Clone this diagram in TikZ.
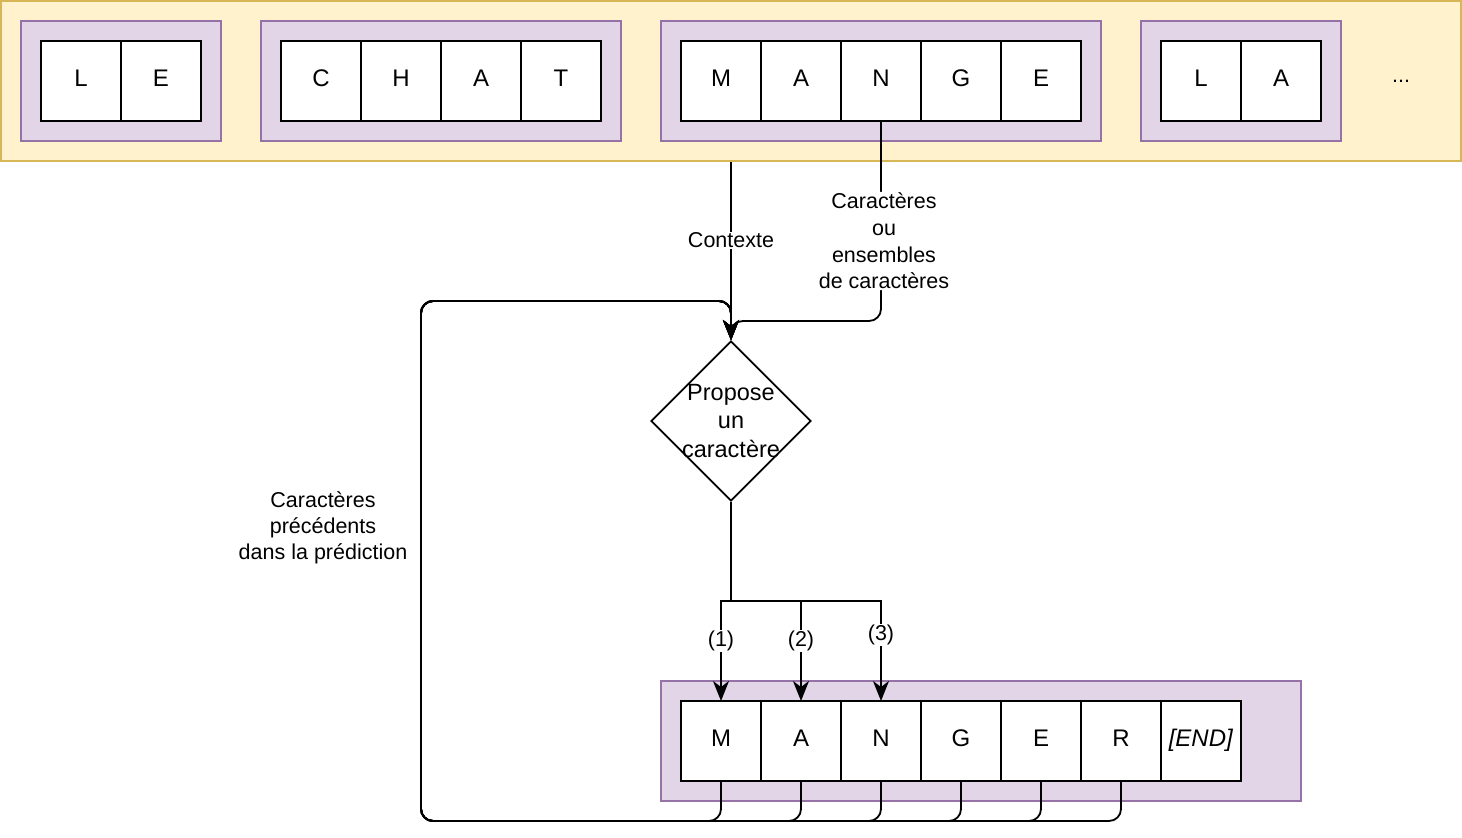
\documentclass[tikz,border=0pt]{standalone}
\usepackage{fontspec}
\setmainfont{Liberation Sans}
\usetikzlibrary{positioning, shapes.geometric, arrows.meta}

\definecolor{textfill}{HTML}{FFF2CC}
\definecolor{textline}{HTML}{D6B656}
\definecolor{wordfill}{HTML}{E1D5E7}
\definecolor{wordline}{HTML}{9673A6}

\tikzset{
  letter/.style={rectangle, draw, line width=1.8pt, fill=white,
    minimum width=80pt, minimum height=80pt, inner sep=0pt, outer sep=0pt,
    text height=17pt, text depth=6pt,
    font=\fontsize{24}{28}\selectfont},
  word/.style={rectangle, draw=wordline, fill=wordfill, line width=1.8pt,
    minimum height=120pt, inner sep=0pt},
  link/.style={line width=1.8pt},
  flow/.style={link, -{Stealth[length=20pt, width=16pt, inset=6pt]}},
  tag/.style={fill=white, align=center, inner sep=1pt,
    font=\fontsize{21.5}{26.7}\selectfont},
}

\begin{document}
\begin{tikzpicture}[x=1pt, y=-1pt]
  \useasboundingbox (-1,-1) rectangle (1461,837);

  % texte d'entree
  \node[
  rectangle,
  draw=textline,
  fill=textfill,
  line width=1.8pt,
  minimum width=1460pt,
  minimum height=160pt] (text) at (730,80) {};

  \node[word, minimum width=200pt] (w1) at (120,80) {};
  \node[word, minimum width=360pt] (w2) at (440,80) {};
  \node[word, minimum width=440pt] (w3) at (880,80) {};
  \node[word, minimum width=200pt] (w4) at (1240,80) {};

  \node[letter] (l1) at (80,80) {L};
  \node[letter, right=0pt of l1] (e1) {E};

  \node[letter] (c2) at (320,80) {C};
  \node[letter, right=0pt of c2] (h2) {H};
  \node[letter, right=0pt of h2] (a2) {A};
  \node[letter, right=0pt of a2] (t2) {T};

  \node[letter] (m3) at (720,80) {M};
  \node[letter, right=0pt of m3] (a3) {A};
  \node[letter, right=0pt of a3] (n3) {N};
  \node[letter, right=0pt of n3] (g3) {G};
  \node[letter, right=0pt of g3] (e3) {E};

  \node[letter] (l4) at (1200,80) {L};
  \node[letter, right=0pt of l4] (a4) {A};

  \node[font=\fontsize{21.5}{26}\selectfont] (more) at (1400,80) {...};

  % prediction
  \node[
  diamond,
  draw,
  line width=1.8pt,
  aspect=1,
  minimum width=160pt,
  minimum height=160pt,
  inner sep=-4pt,
  align=center,
  font=\fontsize{23.5}{28.5}\selectfont] (guess) at (730,420) {Propose\\un\\caractère};

  \node[word, minimum width=640pt] (out) at (980,740) {};

  \node[letter] (m) at (720,740) {M};
  \node[letter, right=0pt of m] (a) {A};
  \node[letter, right=0pt of a] (n) {N};
  \node[letter, right=0pt of n] (g) {G};
  \node[letter, right=0pt of g] (e) {E};
  \node[letter, right=0pt of e] (r) {R};
  \node[letter, right=0pt of r] (end) {\textit{[END]}};

  \coordinate (join) at (730,320);
  \coordinate (back) at (730,300);
  \coordinate (corner) at (420,820);
  \coordinate (split) at (730,600);

  \draw[flow] (text.south) -- node[tag, pos=0.44] {Contexte} (guess.north);
  \draw[flow, rounded corners=12pt] (n3.south) |- node[tag, pos=0.3, xshift=3pt]
    {Caractères\\ou\\ensembles\\de caractères} (join) -- (guess.north);

  % boucle de retour
  \draw[flow, rounded corners=12pt] (m.south) |- (corner) |- (back) -- (guess.north);
  \draw[flow, rounded corners=12pt] (a.south) |- (corner) |- (back) -- (guess.north);
  \draw[flow, rounded corners=12pt] (n.south) |- (corner) |- (back) -- (guess.north);
  \draw[flow, rounded corners=12pt] (g.south) |- (corner) |- (back) -- (guess.north);
  \draw[flow, rounded corners=12pt] (e.south) |- (corner) |- (back) -- (guess.north);
  \draw[flow, rounded corners=12pt] (r.south) |- (corner) |- (back) -- (guess.north);
  \node[align=center, font=\fontsize{21.5}{26}\selectfont] (prev) at (322,527)
    {Caractères\\précédents\\dans la prédiction};

  \draw[link] (guess.south) -- (split);
  \draw[flow] (split) -| node[tag, pos=0.7] {(1)} (m.north);
  \draw[flow] (split) -| node[tag, pos=0.7] {(2)} (a.north);
  \draw[flow] (split) -| node[tag, pos=0.67] {(3)} (n.north);
\end{tikzpicture}
\end{document}
